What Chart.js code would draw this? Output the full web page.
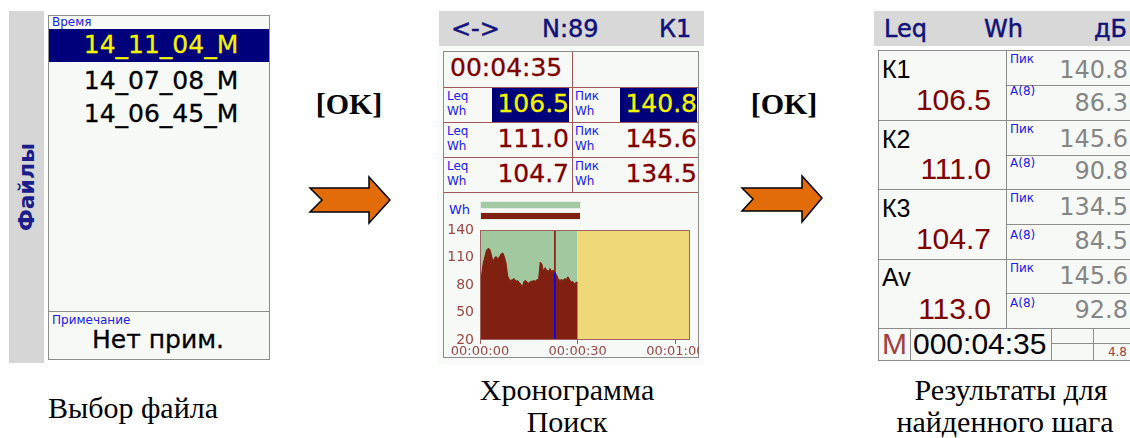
<!DOCTYPE html>
<html lang="ru">
<head>
<meta charset="utf-8">
<title>Хронограмма</title>
<script src="https://cdn.jsdelivr.net/npm/chart.js@4/dist/chart.umd.min.js"></script>
<style>
  body { margin: 0; width: 1130px; height: 438px; position: relative; overflow: hidden; background: #fff; font-family: "DejaVu Sans", sans-serif; }
  div { position: absolute; box-sizing: border-box; white-space: nowrap; }
  .gray { background: #d8d8d8; }
  .box { border: 1px solid #8c8c8c; background: #f6f9f6; }
  .hl { background: #00007a; }
  .lbl { font-size: 12px; color: #2020e8; line-height: 12px; }
  .big { font-size: 25px; line-height: 34px; -webkit-text-stroke: 0.3px currentColor; }
  .red { color: #800000; }
  .yel { color: #f4f400; }
  .navy { color: #12127a; font-size: 24px; line-height: 35px; -webkit-text-stroke: 0.5px #12127a; }
  .hline { height: 1px; }
  .vline { width: 1px; }
  .mr { background: #a05858; }
  .gr { background: #8c8c8c; }
  .lib { font-family: "Liberation Sans", Arial, sans-serif; }
  .gv { font-size: 24px; color: #858585; line-height: 30px; }
  .cap { font-family: "Liberation Serif", "Times New Roman", serif; font-size: 30px; line-height: 30px; color: #000; text-align: center; }
  .ok { font-family: "Liberation Serif", "Times New Roman", serif; font-size: 30px; font-weight: bold; line-height: 30px; }
</style>
</head>
<body>

<!-- Экран 1: выбор файла -->
<div class="gray" style="left:9px;top:11px;width:35px;height:352px;background:#d6d6d6"></div>
<div style="left:27px;top:187px;transform:translate(-50%,-50%) rotate(-90deg);font-size:22px;font-weight:bold;color:#1c1c8a;line-height:24px">Файлы</div>
<div class="box" style="left:48px;top:15px;width:222px;height:345px"></div>
<div class="lbl" style="left:52px;top:16px">Время</div>
<div class="hl" style="left:49px;top:29px;width:220px;height:33px"></div>
<div class="big yel" style="left:49px;top:28px;width:224px;text-align:center">14_11_04_M</div>
<div class="big" style="left:49px;top:64px;width:224px;text-align:center">14_07_08_M</div>
<div class="big" style="left:49px;top:97px;width:224px;text-align:center">14_06_45_M</div>
<div class="hline gr" style="left:49px;top:311px;width:220px"></div>
<div class="lbl" style="left:52px;top:314px">Примечание</div>
<div class="big" style="left:49px;top:327px;width:218px;text-align:center;line-height:25px">Нет прим.</div>

<!-- стрелки -->
<div class="ok" style="left:300px;top:89px;width:98px;text-align:center">[OK]</div>
<svg style="position:absolute;left:0;top:0" width="1130" height="438">
  <polygon points="310,188 369,188 369,177 390,200 369,223 369,212 310,212 322,200" fill="#e36c0a" stroke="#000" stroke-width="1.5" stroke-linejoin="miter"/>
  <polygon points="742,188 802,188 802,176 822,198 802,222 802,211 742,211 753,199" fill="#e36c0a" stroke="#000" stroke-width="1.5" stroke-linejoin="miter"/>
</svg>
<div class="ok" style="left:735px;top:89px;width:98px;text-align:center">[OK]</div>

<!-- Экран 2: хронограмма -->
<div style="left:437px;top:46px;width:267px;height:319px;background:#f9fbf9"></div>
<div class="gray" style="left:439px;top:11px;width:265px;height:35px"></div>
<div class="navy" style="left:451px;top:12px">&lt;-&gt;</div>
<div class="navy" style="left:542px;top:12px">N:89</div>
<div class="navy" style="left:659px;top:12px">К1</div>
<div class="box" style="left:443px;top:51px;width:256px;height:307px"></div>
<div class="hline mr" style="left:444px;top:87px;width:254px"></div>
<div class="hline mr" style="left:444px;top:122px;width:254px"></div>
<div class="hline mr" style="left:444px;top:157px;width:254px"></div>
<div class="hline mr" style="left:444px;top:192px;width:254px"></div>
<div class="vline mr" style="left:572px;top:52px;height:140px"></div>
<div class="big red" style="left:450px;top:51px">00:04:35</div>

<div class="lbl" style="left:447px;top:90px">Leq</div><div class="lbl" style="left:447px;top:105px">Wh</div>
<div class="lbl" style="left:575px;top:90px">Пик</div><div class="lbl" style="left:575px;top:105px">Wh</div>
<div class="hl" style="left:492px;top:88px;width:77px;height:34px"></div>
<div class="hl" style="left:620px;top:88px;width:77px;height:34px"></div>
<div class="big yel" style="left:470px;top:87px;width:99px;text-align:right">106.5</div>
<div class="big yel" style="left:598px;top:87px;width:99px;text-align:right">140.8</div>

<div class="lbl" style="left:447px;top:125px">Leq</div><div class="lbl" style="left:447px;top:140px">Wh</div>
<div class="lbl" style="left:575px;top:125px">Пик</div><div class="lbl" style="left:575px;top:140px">Wh</div>
<div class="big red" style="left:470px;top:122px;width:99px;text-align:right">111.0</div>
<div class="big red" style="left:598px;top:122px;width:99px;text-align:right">145.6</div>

<div class="lbl" style="left:447px;top:160px">Leq</div><div class="lbl" style="left:447px;top:175px">Wh</div>
<div class="lbl" style="left:575px;top:160px">Пик</div><div class="lbl" style="left:575px;top:175px">Wh</div>
<div class="big red" style="left:470px;top:157px;width:99px;text-align:right">104.7</div>
<div class="big red" style="left:598px;top:157px;width:99px;text-align:right">134.5</div>

<div class="lbl" style="left:449px;top:204px;font-size:13px">Wh</div>
<div style="left:480px;top:201px;width:101px;height:8px;background:#a3c9a3;border:1px solid #e4ece4"></div>
<div style="left:480px;top:212px;width:101px;height:8px;background:#7f2010;border:1px solid #e4ece4"></div>
<div style="left:444px;top:193px;width:255px;height:165px"><canvas id="crono" width="255" height="165"></canvas></div>

<!-- подписи -->
<div class="cap" style="left:437px;top:375px;width:260px">Хронограмма</div>
<div class="cap" style="left:437px;top:407px;width:260px">Поиск</div>
<div class="cap" style="left:10px;top:393px;width:246px">Выбор файла</div>

<!-- Экран 3: результаты -->
<div class="gray" style="left:874px;top:11px;width:260px;height:35px"></div>
<div class="navy" style="left:884px;top:12px">Leq</div>
<div class="navy" style="left:984px;top:12px">Wh</div>
<div class="navy" style="left:1094px;top:12px">дБ</div>
<div class="box" style="left:878px;top:50px;width:270px;height:311px"></div>
<div class="hline gr" style="left:879px;top:120px;width:260px"></div>
<div class="hline gr" style="left:879px;top:189px;width:260px"></div>
<div class="hline gr" style="left:879px;top:259px;width:260px"></div>
<div class="hline gr" style="left:879px;top:328px;width:260px"></div>
<div class="vline gr" style="left:1006px;top:51px;height:277px"></div>
<div class="hline gr" style="left:1006px;top:85px;width:130px"></div>
<div class="hline gr" style="left:1006px;top:155px;width:130px"></div>
<div class="hline gr" style="left:1006px;top:224px;width:130px"></div>
<div class="hline gr" style="left:1006px;top:293px;width:130px"></div>
<div class="vline gr" style="left:910px;top:328px;height:33px"></div>
<div class="vline gr" style="left:1051px;top:328px;height:33px"></div>
<div class="vline gr" style="left:1093px;top:328px;height:33px"></div>
<div class="hline gr" style="left:1051px;top:343px;width:90px"></div>

<div class="lib" style="left:882px;top:54px;font-size:25px;line-height:30px">К1</div>
<div class="lib" style="left:882px;top:124px;font-size:25px;line-height:30px">К2</div>
<div class="lib" style="left:882px;top:193px;font-size:25px;line-height:30px">К3</div>
<div class="lib" style="left:882px;top:262px;font-size:25px;line-height:30px">Av</div>
<div class="lib red" style="left:880px;top:83px;width:111px;text-align:right;font-size:30px;line-height:34px">106.5</div>
<div class="lib red" style="left:880px;top:152px;width:111px;text-align:right;font-size:30px;line-height:34px">111.0</div>
<div class="lib red" style="left:880px;top:222px;width:111px;text-align:right;font-size:30px;line-height:34px">104.7</div>
<div class="lib red" style="left:880px;top:292px;width:111px;text-align:right;font-size:30px;line-height:34px">113.0</div>

<div class="lbl" style="left:1010px;top:53px">Пик</div><div class="lbl" style="left:1010px;top:85px">А(8)</div>
<div class="lbl" style="left:1010px;top:123px">Пик</div><div class="lbl" style="left:1010px;top:157px">А(8)</div>
<div class="lbl" style="left:1010px;top:192px">Пик</div><div class="lbl" style="left:1010px;top:229px">А(8)</div>
<div class="lbl" style="left:1010px;top:262px">Пик</div><div class="lbl" style="left:1010px;top:297px">А(8)</div>
<div class="gv" style="left:1010px;top:55px;width:118px;text-align:right">140.8</div>
<div class="gv" style="left:1010px;top:88px;width:118px;text-align:right">86.3</div>
<div class="gv" style="left:1010px;top:124px;width:118px;text-align:right">145.6</div>
<div class="gv" style="left:1010px;top:156px;width:118px;text-align:right">90.8</div>
<div class="gv" style="left:1010px;top:192px;width:118px;text-align:right">134.5</div>
<div class="gv" style="left:1010px;top:226px;width:118px;text-align:right">84.5</div>
<div class="gv" style="left:1010px;top:261px;width:118px;text-align:right">145.6</div>
<div class="gv" style="left:1010px;top:295px;width:118px;text-align:right">92.8</div>

<div class="lib" style="left:879px;top:327px;width:31px;text-align:center;font-size:30px;line-height:34px;color:#a04040">M</div>
<div class="lib" style="left:913px;top:327px;font-size:30px;line-height:34px">000:04:35</div>
<div style="left:1094px;top:345px;width:33px;text-align:right;font-size:12px;line-height:14px;color:#a04040">4.8</div>

<div class="cap" style="left:880px;top:375px;width:262px">Результаты для</div>
<div class="cap" style="left:870px;top:407px;width:270px">найденного шага</div>

<script>
// Хронограмма: уровни Wh, шаг 0,5 с
const stepSec = 0.5;
const levels = [
  89, 91, 104, 111, 118, 120, 119, 113, 105, 110,
  111, 108, 111, 114, 115, 111, 104, 90, 86, 85,
  86, 87, 84, 85, 83, 81, 78, 84, 85, 83,
  82, 84, 84, 85, 84, 86, 86, 105, 103, 95,
  99, 96, 95, 98, 95, 96, 94, 91, 87, 85,
  86, 85, 87, 86, 89, 86, 83, 84, 81, 83, 83
];
const measuredEnd = 30;      // с, конец записи
const axisEnd = 64.5;        // с, правый край шкалы
const yMin = 20, yMax = 140;
const yTicks = [20, 50, 80, 110, 140];
const xTicks = [0, 30, 60];
const xTickLabels = ['00:00:00', '00:00:30', '00:01:00'];
const cursorTime = 23;
const cursorLevel = 94;

const labelColor = '#9a4848';
const tickFont = { family: 'DejaVu Sans', size: 13 };

const levelPoints = levels.map((v, i) => ({ x: i * stepSec, y: v }));

// рамка области графика
const frame = {
  id: 'frame',
  afterDatasetsDraw(chart) {
    const { ctx, chartArea: a } = chart;
    ctx.save();
    ctx.strokeStyle = '#a06060';
    ctx.lineWidth = 1;
    ctx.strokeRect(a.left + 0.5, a.top + 0.5, a.right - a.left - 1, a.bottom - a.top - 1);
    ctx.restore();
  }
};

new Chart(document.getElementById('crono'), {
  type: 'line',
  data: {
    datasets: [
      { // курсор над кривой
        data: [{ x: cursorTime, y: yMax }, { x: cursorTime, y: cursorLevel }],
        borderColor: '#7f2010', borderWidth: 1, pointRadius: 0, fill: false, order: 1
      },
      { // курсор под кривой
        data: [{ x: cursorTime, y: cursorLevel }, { x: cursorTime, y: yMin }],
        borderColor: '#0000ff', borderWidth: 1.5, pointRadius: 0, fill: false, order: 1
      },
      { // уровень
        data: levelPoints,
        borderColor: '#7f2010', borderWidth: 1, backgroundColor: '#7f2010',
        pointRadius: 0, tension: 0, fill: 'start', order: 3
      },
      { // записанный интервал
        data: [{ x: 0, y: yMax }, { x: measuredEnd, y: yMax }],
        borderColor: 'rgba(0,0,0,0)', backgroundColor: '#a2c8a0',
        pointRadius: 0, fill: 'start', order: 5
      },
      { // пустая часть
        data: [{ x: measuredEnd, y: yMax }, { x: axisEnd, y: yMax }],
        borderColor: 'rgba(0,0,0,0)', backgroundColor: '#efd877',
        pointRadius: 0, fill: 'start', order: 5
      }
    ]
  },
  options: {
    responsive: false,
    animation: false,
    layout: { padding: { top: 37, right: 9, left: 0, bottom: 0 } },
    plugins: { legend: { display: false }, tooltip: { enabled: false } },
    scales: {
      x: {
        type: 'linear', min: 0, max: axisEnd,
        afterBuildTicks: s => { s.ticks = xTicks.map(v => ({ value: v })); },
        afterFit: s => { s.height = 18; s.paddingLeft = 0; s.paddingRight = 0; },
        grid: { drawOnChartArea: false, drawTicks: true, tickLength: 4, color: '#a06060' },
        border: { display: false },
        ticks: {
          color: labelColor, font: tickFont, padding: 0, maxRotation: 0, autoSkip: false,
          callback: (v, i) => xTickLabels[i]
        }
      },
      y: {
        min: yMin, max: yMax,
        afterBuildTicks: s => { s.ticks = yTicks.map(v => ({ value: v })); },
        afterFit: s => { s.width = 36; s.paddingTop = 0; s.paddingBottom = 0; },
        grid: { display: false, drawTicks: false },
        border: { display: false },
        ticks: { color: labelColor, font: { family: 'DejaVu Sans', size: 14 }, padding: 6 }
      }
    }
  },
  plugins: [frame]
});
</script>
</body>
</html>
